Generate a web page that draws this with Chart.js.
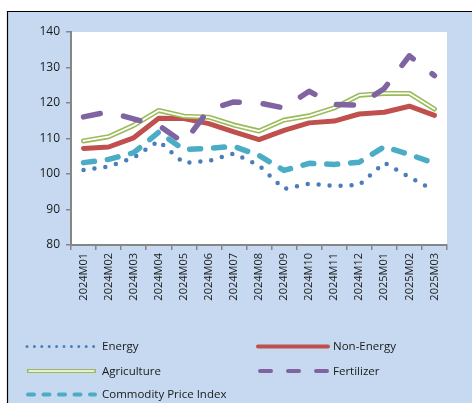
<!DOCTYPE html>
<html lang="en">
<head>
<meta charset="utf-8">
<title>Commodity price indices</title>
<script src="https://cdn.jsdelivr.net/npm/chart.js@4"></script>
<style>
  html, body { margin: 0; padding: 0; background: #fff; }
  #chart { display: block; }
</style>
</head>
<body>
<canvas id="chart" width="472" height="403"></canvas>
<script>
// months on the x axis
const months = ['2024M01', '2024M02', '2024M03', '2024M04', '2024M05', '2024M06', '2024M07', '2024M08',
                '2024M09', '2024M10', '2024M11', '2024M12', '2025M01', '2025M02', '2025M03'];

// index values
const energy      = [101.1, 102.1, 104.6, 109.3, 103.1, 103.7, 105.8, 102.4, 95.8, 97.3, 96.6, 96.9, 103.2, 99.1, 95.3];
const nonEnergy   = [107.2, 107.6, 110.2, 115.7, 115.6, 114.2, 111.9, 109.7, 112.3, 114.4, 114.9, 116.9, 117.4, 119.1, 116.5];
const agriculture = [109.3, 110.5, 113.7, 117.9, 116.3, 116.0, 113.8, 112.1, 115.2, 116.4, 118.6, 122.2, 122.7, 122.7, 118.3];
const fertilizer  = [116.1, 117.5, 115.5, 113.7, 108.8, 118.1, 120.3, 120.0, 118.6, 123.3, 119.6, 119.4, 124.1, 133.3, 127.7];
const cpi         = [103.2, 104.1, 106.0, 111.8, 106.9, 107.2, 107.8, 105.2, 101.0, 103.0, 102.7, 103.3, 107.7, 105.5, 103.0];

const yTicks = [80, 90, 100, 110, 120, 130, 140];

const FONT = '"Open Sans", "Noto Sans", sans-serif';
const AXIS_GREY = '#868686';

// page frame + white plot area
const frame = {
    id: 'frame',
    beforeDraw(chart) {
        const ctx = chart.ctx, a = chart.chartArea;
        ctx.save();
        ctx.fillStyle = '#ffffff';
        ctx.fillRect(0, 0, chart.width, chart.height);
        ctx.fillStyle = '#c6d9f0';
        ctx.fillRect(7, 11, chart.width - 7, chart.height - 11);
        ctx.strokeStyle = '#000';
        ctx.lineWidth = 1.2;
        ctx.beginPath();
        ctx.moveTo(7.5, chart.height);
        ctx.lineTo(7.5, 11.5);
        ctx.lineTo(chart.width, 11.5);
        ctx.stroke();
        ctx.fillStyle = '#ffffff';
        ctx.fillRect(a.left, a.top, a.right - a.left, a.bottom - a.top);
        ctx.restore();
    }
};

// hand drawn legend (two columns, Excel style samples)
const legendBox = {
    id: 'legendBox',
    afterDraw(chart) {
        const ctx = chart.ctx;
        const ds = chart.data.datasets;
        const items = [
            { i: 0, x: 27,  y: 346.5, w: 67, tx: 102, kind: 'dots' },
            { i: 1, x: 258, y: 346.5, w: 70, tx: 333, kind: 'solid' },
            { i: 2, x: 27,  y: 371,   w: 69, tx: 102, kind: 'double' },
            { i: 4, x: 260, y: 371,   w: 68, tx: 333, kind: 'longdash' },
            { i: 5, x: 28,  y: 394.5, w: 67, tx: 102, kind: 'dash' }
        ];
        ctx.save();
        ctx.lineCap = 'round';
        items.forEach(it => {
            const d = ds[it.i];
            ctx.strokeStyle = d.borderColor;
            ctx.setLineDash([]);
            ctx.beginPath();
            ctx.moveTo(it.x, it.y);
            ctx.lineTo(it.x + it.w, it.y);
            if (it.kind === 'dots') {
                ctx.lineWidth = 3;
                ctx.setLineDash([0, 7.4]);
                ctx.stroke();
            } else if (it.kind === 'solid') {
                ctx.lineWidth = 4;
                ctx.stroke();
            } else if (it.kind === 'double') {
                ctx.lineCap = 'butt';
                ctx.lineWidth = 4;
                ctx.stroke();
                ctx.strokeStyle = '#ffffff';
                ctx.lineWidth = 1.5;
                ctx.beginPath();
                ctx.moveTo(it.x + 1.5, it.y);
                ctx.lineTo(it.x + it.w - 1.5, it.y);
                ctx.stroke();
                ctx.lineCap = 'round';
            } else if (it.kind === 'longdash') {
                ctx.lineWidth = 4;
                ctx.setLineDash([11, 17]);
                ctx.stroke();
            } else {
                ctx.lineWidth = 4;
                ctx.setLineDash([6, 9.5]);
                ctx.stroke();
            }
            ctx.setLineDash([]);
            ctx.fillStyle = '#1a1a1a';
            ctx.font = '11.5px ' + FONT;
            ctx.textBaseline = 'middle';
            ctx.fillText(d.label, it.tx, it.y + 0.5);
        });
        ctx.restore();
    }
};

const line = (label, data, color, width, dash, order) => ({
    label: label,
    data: data,
    borderColor: color,
    backgroundColor: color,
    borderWidth: width,
    borderDash: dash,
    borderCapStyle: 'round',
    borderJoinStyle: 'round',
    pointRadius: 0,
    fill: false,
    tension: 0,
    order: order
});

new Chart(document.getElementById('chart'), {
    type: 'line',
    data: {
        labels: months,
        datasets: [
            line('Energy', energy, '#4a7ebb', 4.5, [0, 11], 10),
            line('Non-Energy', nonEnergy, '#c0504d', 5, [], 9),
            line('Agriculture', agriculture, '#9bbb59', 5, [], 8),
            line('Agriculture inner', agriculture, '#ffffff', 1.8, [], 7),
            line('Fertilizer', fertilizer, '#8064a2', 5.5, [17, 24], 6),
            line('Commodity Price Index', cpi, '#4bacc6', 5.5, [11, 13], 5)
        ]
    },
    options: {
        responsive: false,
        animation: false,
        devicePixelRatio: 1,
        layout: { padding: { left: 0, right: 25, top: 32, bottom: 0 } },
        plugins: {
            legend: { display: false },
            tooltip: { enabled: false }
        },
        scales: {
            x: {
                offset: true,
                grid: {
                    offset: true,
                    drawOnChartArea: false,
                    color: AXIS_GREY,
                    lineWidth: 1.5,
                    tickLength: 5
                },
                border: { color: AXIS_GREY, width: 2 },
                ticks: {
                    color: '#1a1a1a',
                    font: { family: FONT, size: 11 },
                    minRotation: 90,
                    maxRotation: 90,
                    autoSkip: false,
                    padding: 3
                },
                afterFit: s => { s.height = 158; }
            },
            y: {
                min: 80,
                max: 140,
                afterBuildTicks: s => { s.ticks = yTicks.map(v => ({ value: v })); },
                grid: {
                    drawOnChartArea: false,
                    color: AXIS_GREY,
                    lineWidth: 1.5,
                    tickLength: 5
                },
                border: { color: AXIS_GREY, width: 2 },
                ticks: {
                    color: '#1a1a1a',
                    font: { family: FONT, size: 12 },
                    padding: 6
                },
                afterFit: s => { s.width = 71; }
            }
        }
    },
    plugins: [frame, legendBox]
});
</script>
</body>
</html>
